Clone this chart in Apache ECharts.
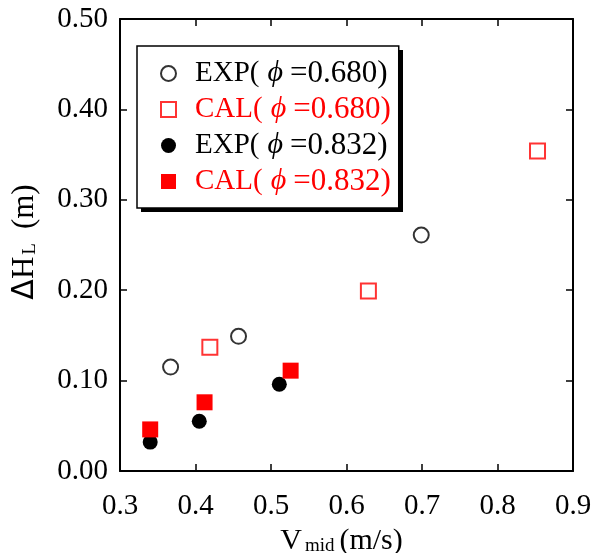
<!DOCTYPE html>
<html>
<head>
<meta charset="utf-8">
<script src="https://cdn.jsdelivr.net/npm/echarts@6/dist/echarts.min.js"></script>
<style>
  html, body { margin: 0; padding: 0; background: #fff; }
  #chart { width: 600px; height: 553px; }
</style>
</head>
<body>
<div id="chart"></div>
<script>
// data: [V_mid (m/s), ΔH_L (m)]
const exp680 = [[0.367, 0.115], [0.457, 0.149], [0.699, 0.261]]
const cal680 = [[0.419, 0.137], [0.629, 0.199], [0.853, 0.354]]
const exp832 = [[0.340, 0.032], [0.405, 0.055], [0.511, 0.096]]
const cal832 = [[0.340, 0.046], [0.412, 0.076], [0.526, 0.111]]
const seriesNames = ['EXP(0.680)', 'CAL(0.680)', 'EXP(0.832)', 'CAL(0.832)']

const font = '"Liberation Serif", "DejaVu Serif", serif'
const red = '#ff0000'

const lineStyle = { color: '#000', width: 2 }
const tick = { show: true, inside: true, length: 7, lineStyle: { color: '#000', width: 1.5 } }

function xAx(pos, showLabel) {
  return {
    type: 'value', position: pos, min: 0.3, max: 0.9, interval: 0.1,
    axisLine: { show: true, onZero: false, lineStyle: lineStyle },
    axisTick: tick, splitLine: { show: false },
    axisLabel: {
      show: showLabel, color: '#000', fontFamily: font, fontSize: 29, margin: 21,
      formatter: v => v.toFixed(1),
      showMinLabel: true, showMaxLabel: true
    },
    name: showLabel ? '{m|V}{s|mid}{e|(m/s)}' : '',
    nameLocation: 'middle', nameGap: 50,
    nameTextStyle: {
      rich: {
        m: { fontFamily: font, fontSize: 30, color: '#000', lineHeight: 30 },
        e: { fontFamily: font, fontSize: 30, color: '#000', lineHeight: 30, padding: [0, 10, 0, 0] },
        s: { fontFamily: font, fontSize: 19, color: '#000', lineHeight: 12, verticalAlign: 'bottom', padding: [0, 5, 0, 3] }
      }
    }
  }
}

function yAx(pos, showLabel) {
  return {
    type: 'value', position: pos, min: 0, max: 0.5, interval: 0.1,
    axisLine: { show: true, onZero: false, lineStyle: lineStyle },
    axisTick: tick, splitLine: { show: false },
    axisLabel: {
      show: showLabel, color: '#000', fontFamily: font, fontSize: 29, margin: 12,
      formatter: v => v.toFixed(2),
      showMinLabel: true, showMaxLabel: true
    },
    name: showLabel ? '{d|Δ}{m|H}{s|L}{m|(m)}' : '',
    nameLocation: 'middle', nameGap: 80, nameRotate: 90,
    nameTextStyle: {
      rich: {
        d: { fontFamily: '"DejaVu Sans", sans-serif', fontSize: 30, color: '#000', lineHeight: 30, padding: [0, 0, 0, 6] },
        m: { fontFamily: font, fontSize: 31, color: '#000', lineHeight: 30 },
        s: { fontFamily: font, fontSize: 19, color: '#000', lineHeight: 14, verticalAlign: 'bottom', padding: [0, 14, 0, 2] }
      }
    }
  }
}

const legendRich = c => ({
  n: { fontFamily: font, fontSize: 29, color: c, lineHeight: 28 },
  p: { fontFamily: font, fontSize: 30, fontStyle: 'italic', color: c, lineHeight: 28, padding: [0, 7, 0, 8] },
  v: { fontFamily: font, fontSize: 31, color: c, lineHeight: 28 }
})

const chart = echarts.init(document.getElementById('chart'))
chart.setOption({
  animation: false,
  backgroundColor: '#fff',
  grid: { left: 120, right: 27, top: 19, bottom: 82, containLabel: false, outerBoundsMode: 'none' },
  xAxis: [xAx('bottom', true), xAx('top', false)],
  yAxis: [yAx('left', true), yAx('right', false)],
  graphic: [{
    // drop shadow of the legend box
    type: 'rect', left: 141, top: 50, z: 3,
    shape: { width: 262, height: 162 },
    style: { fill: '#000' }
  }],
  legend: {
    orient: 'vertical', left: 137, top: 46, z: 5,
    padding: [12, 8, 11, 23], itemGap: 5,
    itemWidth: 15, itemHeight: 15,
    backgroundColor: '#fff', borderColor: '#000', borderWidth: 1.5,
    formatter: name => '{n|' + name.slice(0, 4) + '}{p|ϕ}{v|=' + name.slice(4) + '}',
    textStyle: { fontFamily: font, fontSize: 29, lineHeight: 28, padding: [0, 0, 0, 14] },
    data: [
      { name: seriesNames[0], textStyle: { color: '#000', rich: legendRich('#000') } },
      { name: seriesNames[1], textStyle: { color: red, rich: legendRich(red) } },
      { name: seriesNames[2], textStyle: { color: '#000', rich: legendRich('#000') } },
      { name: seriesNames[3], textStyle: { color: red, rich: legendRich(red) } }
    ]
  },
  series: [
    { name: seriesNames[0], type: 'scatter', data: exp680, symbol: 'emptyCircle', symbolSize: 15,
      itemStyle: { color: '#000', borderColor: '#000', borderWidth: 1.3 } },
    { name: seriesNames[1], type: 'scatter', data: cal680, symbol: 'emptyRect', symbolSize: 15,
      itemStyle: { color: red, borderColor: red, borderWidth: 1.3 } },
    { name: seriesNames[2], type: 'scatter', data: exp832, symbol: 'circle', symbolSize: 15,
      itemStyle: { color: '#000', opacity: 1 } },
    { name: seriesNames[3], type: 'scatter', data: cal832, symbol: 'rect', symbolSize: 16,
      itemStyle: { color: red, opacity: 1 } }
  ]
})
window.addEventListener('resize', () => chart.resize())
</script>
</body>
</html>
